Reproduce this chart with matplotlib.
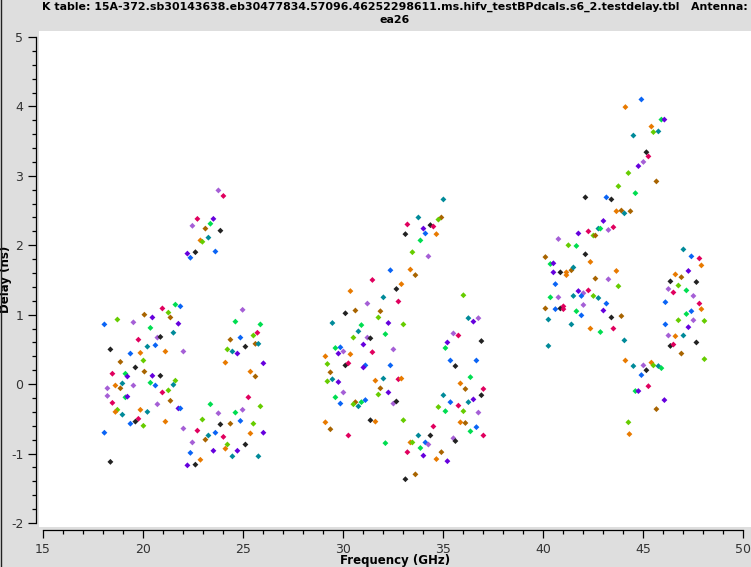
import matplotlib
matplotlib.use('Agg')
import matplotlib.pyplot as plt
from matplotlib.ticker import MultipleLocator
from matplotlib.lines import Line2D

plt.rcParams['axes.unicode_minus'] = False

# one colour per letter
palette = {'b': '#0a64f5', 'o': '#e87a00', 'n': '#a86400', 'k': '#222222',
           'r': '#e0005e', 'p': '#6600dd', 'l': '#a55fd6', 't': '#008a99',
           'g': '#00dd50', 'y': '#66cc00'}

# K band points (GHz, ns)
k_freq = [23.77, 24.02, 22.72, 23.52, 22.47, 23.37, 23.12, 23.87, 23.27, 22.87,
          22.97, 22.22, 22.62, 23.62, 22.37,
          18.07, 18.72, 19.52, 20.07, 20.47, 20.97, 21.27, 21.37, 21.62, 21.87,
          20.37, 21.77, 19.77, 20.22, 20.62, 20.72, 20.87, 21.52, 21.12, 22.02,
          18.37, 18.87, 19.37, 19.87, 20.02, 19.62, 20.07, 18.47, 19.12, 19.22,
          20.47, 20.87, 18.97, 18.62, 18.87, 18.22, 19.52, 20.37, 20.62, 21.62,
          21.52, 21.27, 20.97, 18.22, 19.12, 19.22, 18.47, 21.37, 18.72, 18.62,
          19.87, 20.22, 21.77, 21.87, 18.97, 19.77, 19.62, 19.37, 20.02, 20.72,
          21.12, 22.02, 18.07, 18.37,
          24.98, 24.62, 25.87, 25.72, 25.52, 24.37, 24.87, 24.22, 24.47, 24.72,
          25.12, 25.62, 25.77, 24.12, 26.02, 25.37, 25.62, 25.27, 25.87, 23.37,
          23.77, 24.62, 24.98, 22.97, 24.37, 23.87, 24.87, 25.52, 22.72, 23.62,
          24.02, 23.27, 23.12, 22.47, 24.22, 25.12, 25.37, 26.02, 24.12, 23.52,
          24.72, 22.37, 24.47, 25.77, 22.87, 22.22, 22.62]
k_delay = [2.79, 2.71, 2.38, 2.38, 2.28, 2.31, 2.24, 2.21, 2.11, 2.07,
           2.05, 1.88, 1.90, 1.91, 1.82,
           0.86, 0.93, 0.89, 1.00, 0.96, 1.09, 1.03, 0.96, 1.145, 1.12,
           0.81, 0.87, 0.64, 0.54, 0.56, 0.67, 0.68, 0.74, 0.47, 0.47,
           0.50, 0.32, 0.44, 0.45, 0.34, 0.24, 0.18, 0.15, 0.15, 0.11,
           0.12, 0.12, 0.01, -0.02, -0.06, -0.06, -0.02, 0.02, -0.02, 0.05,
           -0.01, -0.09, -0.12, -0.17, -0.19, -0.18, -0.27, -0.24, -0.37, -0.40,
           -0.37, -0.40, -0.35, -0.35, -0.44, -0.50, -0.54, -0.57, -0.60, -0.29,
           -0.54, -0.64, -0.70, -1.12,
           1.07, 0.90, 0.86, 0.74, 0.70, 0.64, 0.67, 0.50, 0.47, 0.44,
           0.54, 0.58, 0.58, 0.31, 0.30, 0.18, 0.11, -0.19, -0.32, -0.29,
           -0.42, -0.41, -0.37, -0.51, -0.57, -0.58, -0.53, -0.57, -0.67, -0.70,
           -0.76, -0.74, -0.80, -0.84, -0.87, -0.87, -0.71, -0.70, -0.93, -0.96,
           -0.96, -0.99, -1.04, -1.04, -1.09, -1.17, -1.16]
k_col = ("lrrplgnktoypkbb"
         "bylnpryngb" "gprtblktol" "knboyknrgp" "pktonllgby" "tyrlgprnyo"
         "otpbtrkbyl" "olbk"
         "lggrynbytp" "kntoponryg" "lglynkbyrb" "rtnlykopop" "pbttopk")

# Ka band points
ka_freq = [35.02, 33.77, 34.92, 34.77, 33.22, 34.02, 34.37, 34.52, 33.12, 34.12,
           34.67, 33.87, 33.47, 34.27, 32.37, 33.37, 33.62, 31.47, 32.92, 32.67,
           30.37, 32.02, 32.77, 36.02, 31.22, 30.12, 30.62, 31.87, 31.77, 29.47,
           30.92, 32.27, 33.02, 30.77, 36.27, 36.52, 36.77, 30.52, 31.22, 31.37,
           32.12, 35.52, 35.77, 31.02, 35.22, 36.92, 29.62, 29.87, 29.77, 30.02,
           30.37, 29.12, 31.47, 32.52, 35.12, 29.22, 30.12, 30.27, 31.12, 32.37,
           31.02, 35.37, 35.62, 36.67, 29.37, 29.22, 29.47, 29.77, 31.62, 32.02,
           32.77, 32.92, 36.37, 35.87, 36.12, 37.02, 30.02, 31.87, 32.27, 29.62,
           29.87, 30.62, 30.52, 30.92, 30.77, 31.12, 31.77, 32.52, 32.67, 35.02,
           35.37, 35.77, 36.27, 36.52, 36.92, 34.77, 35.12, 36.02, 36.77, 29.12,
           29.37, 31.37, 31.62, 33.02, 30.27, 32.12, 34.52, 35.87, 36.12, 36.67,
           36.37, 37.02, 33.77, 34.37, 33.37, 33.47, 34.12, 34.27, 35.52, 35.62,
           33.87, 33.22, 34.02, 34.92, 34.67, 35.22, 33.62, 33.12]
ka_delay = [2.66, 2.40, 2.40, 2.37, 2.30, 2.24, 2.29, 2.27, 2.16, 2.17,
            2.16, 2.07, 1.90, 1.84, 1.64, 1.65, 1.57, 1.50, 1.44, 1.37,
            1.34, 1.25, 1.19, 1.28, 1.16, 1.02, 1.06, 1.05, 0.96, 0.88,
            0.85, 0.88, 0.86, 0.76, 0.95, 0.90, 0.95, 0.67, 0.67, 0.66,
            0.72, 0.73, 0.70, 0.57, 0.60, 0.62, 0.52, 0.53, 0.44, 0.47,
            0.43, 0.40, 0.46, 0.50, 0.52, 0.29, 0.27, 0.30, 0.27, 0.27,
            0.24, 0.34, 0.26, 0.34, 0.17, 0.04, 0.07, 0.03, 0.05, 0.08,
            0.07, 0.08, 0.10, 0.01, -0.07, -0.07, -0.12, -0.06, -0.12, -0.19,
            -0.28, -0.26, -0.29, -0.26, -0.32, -0.23, -0.15, -0.28, -0.25, -0.16,
            -0.26, -0.31, -0.26, -0.22, -0.16, -0.33, -0.39, -0.39, -0.41, -0.55,
            -0.65, -0.52, -0.54, -0.52, -0.74, -0.85, -0.61, -0.55, -0.56, -0.62,
            -0.68, -0.74, -0.74, -0.74, -0.84, -0.84, -0.84, -0.87, -0.78, -0.82,
            -0.92, -0.98, -1.03, -0.98, -1.08, -1.11, -1.30, -1.37]
ka_col = ("ttnyrpkrkb" "ogylbonrok" "otrylknnyt" "gpyttplylk" "glrppkgbpl"
          "oorlgykrbb" "pbkbnytpot" "rogonrlnpg" "bnygtbylkt" "brtpkygylo"
          "nkoyrgronb" "grtkoybllk" "grpnopnk")

# Q band points
q_freq = [44.92, 44.12, 45.92, 46.07, 45.42, 45.52, 45.77, 44.52, 45.17, 45.27,
          45.02, 44.77, 44.27, 45.67, 43.77, 44.62, 42.12, 43.17, 43.42, 43.67,
          43.92, 44.07, 44.37, 43.02, 42.77, 42.87, 43.52, 43.27, 41.77, 42.27,
          42.52, 42.62, 40.77, 41.27, 41.67, 42.12, 40.12, 40.37, 40.52, 42.37,
          40.52, 40.87, 41.17, 41.17, 41.42, 41.52, 43.67, 42.62, 43.27, 40.62,
          43.77, 41.77, 42.02, 42.27, 41.92, 41.52, 40.37, 40.77, 42.52, 42.77,
          43.17, 40.12, 40.62, 40.87, 41.02, 41.02, 42.02, 41.67, 43.02, 41.92,
          43.42, 43.92, 40.27, 41.42, 42.37, 43.52, 42.87, 44.07, 40.27, 44.12,
          44.52, 45.02, 45.42, 45.52, 45.77, 45.92, 45.17, 44.92, 45.27, 44.62,
          44.77, 46.07, 45.67, 44.27, 44.32,
          47.02, 47.42, 47.82, 47.92, 46.62, 46.92, 47.27, 46.37, 47.67, 46.27,
          46.52, 46.77, 47.17, 47.52, 46.12, 47.82, 47.92, 47.42, 47.17, 46.77,
          47.52, 48.07, 46.12, 47.27, 46.27, 46.62, 47.02, 46.37, 46.52, 47.67,
          46.92, 48.07]
q_delay = [4.10, 3.99, 3.81, 3.81, 3.71, 3.63, 3.64, 3.58, 3.34, 3.28,
           3.20, 3.14, 3.04, 2.92, 2.85, 2.75, 2.69, 2.69, 2.66, 2.49,
           2.50, 2.46, 2.49, 2.35, 2.24, 2.24, 2.26, 2.22, 2.17, 2.20,
           2.14, 2.14, 2.09, 2.00, 1.99, 1.87, 1.83, 1.73, 1.74, 1.76,
           1.61, 1.61, 1.61, 1.57, 1.64, 1.68, 1.63, 1.52, 1.51, 1.44,
           1.41, 1.34, 1.31, 1.35, 1.27, 1.27, 1.25, 1.25, 1.27, 1.24,
           1.16, 1.09, 1.08, 1.09, 1.12, 1.08, 1.14, 1.05, 1.06, 0.99,
           0.96, 0.98, 0.93, 0.86, 0.80, 0.80, 0.75, 0.63, 0.55, 0.34,
           0.26, 0.27, 0.31, 0.27, 0.26, 0.23, 0.20, 0.13, -0.03, -0.10,
           -0.10, -0.23, -0.36, -0.55, -0.72,
           1.94, 1.84, 1.81, 1.71, 1.58, 1.54, 1.63, 1.48, 1.47, 1.37,
           1.32, 1.42, 1.35, 1.27, 1.18, 1.16, 1.08, 1.05, 1.01, 0.92,
           0.92, 0.91, 0.86, 0.82, 0.70, 0.69, 0.70, 0.55, 0.57, 0.60,
           0.44, 0.36]
q_col = ("bogpoyttkr" "lpynygkbko" "ntnptgrlpr" "ynlygkngpo" "pkoontonlb"
         "yplrbtglyt" "bnbkrrlgpb" "knttorgtto" "tloytgkbrg" "ppnyo"
         "tbroonpkkl" "ryglbrobgy" "lybplotkrk" "ny")

title = ("K table: 15A-372.sb30143638.eb30477834.57096.46252298611.ms."
         "hifv_testBPdcals.s6_2.testdelay.tbl   Antenna:\nea26")

fam = ['DejaVu Sans']
W, H = 751, 567
fig = plt.figure(figsize=(W / 100, H / 100), dpi=100, facecolor='#dedede')
ax = fig.add_axes([39 / W, 40 / H, 712 / W, 496 / H])
ax.set_facecolor('white')

for f, d, c in ((k_freq, k_delay, k_col), (ka_freq, ka_delay, ka_col),
                (q_freq, q_delay, q_col)):
    assert len(f) == len(d) == len(c), (len(f), len(d), len(c))
    ax.scatter(f, d, c=[palette[ch] for ch in c], marker='D', s=9,
               linewidths=0, zorder=3)

ax.set_xlim(14.8, 50.4)
ax.set_ylim(-2.058, 5.086)

for side in ('top', 'right'):
    ax.spines[side].set_visible(False)
for side in ('left', 'bottom'):
    ax.spines[side].set_position(('outward', 2.2))
    ax.spines[side].set_linewidth(0.9)
ax.spines['left'].set_bounds(-2, 5)
ax.spines['bottom'].set_bounds(15, 50)

ax.xaxis.set_major_locator(MultipleLocator(5))
ax.xaxis.set_minor_locator(MultipleLocator(1))
ax.yaxis.set_major_locator(MultipleLocator(1))
ax.yaxis.set_minor_locator(MultipleLocator(0.2))
ax.tick_params(which='major', direction='out', length=5.5, width=0.9,
               labelsize=9, labelcolor='#333333', pad=3.5)
ax.tick_params(which='minor', direction='out', length=2.6, width=0.9)

ax.set_xlabel('Frequency (GHz)', fontsize=8.5, fontweight='bold', family=fam)
ax.set_ylabel('Delay (ns)', fontsize=8.5, fontweight='bold', family=fam)
ax.xaxis.set_label_coords(356 / 712, -0.0685)
ax.yaxis.set_label_coords(-33 / 712, 0.5)
ax.xaxis.label.set_va('center')
ax.yaxis.label.set_va('center')

fig.text(395 / W, 1 - 2 / H, title, ha='center', va='top', fontsize=7.9,
         fontweight='bold', family=fam, linespacing=1.3)

fig.add_artist(Line2D([0.6 / W, 0.6 / W], [0, 1], color='#222222', lw=1))

fig.savefig('out.png', dpi=100, facecolor=fig.get_facecolor())
